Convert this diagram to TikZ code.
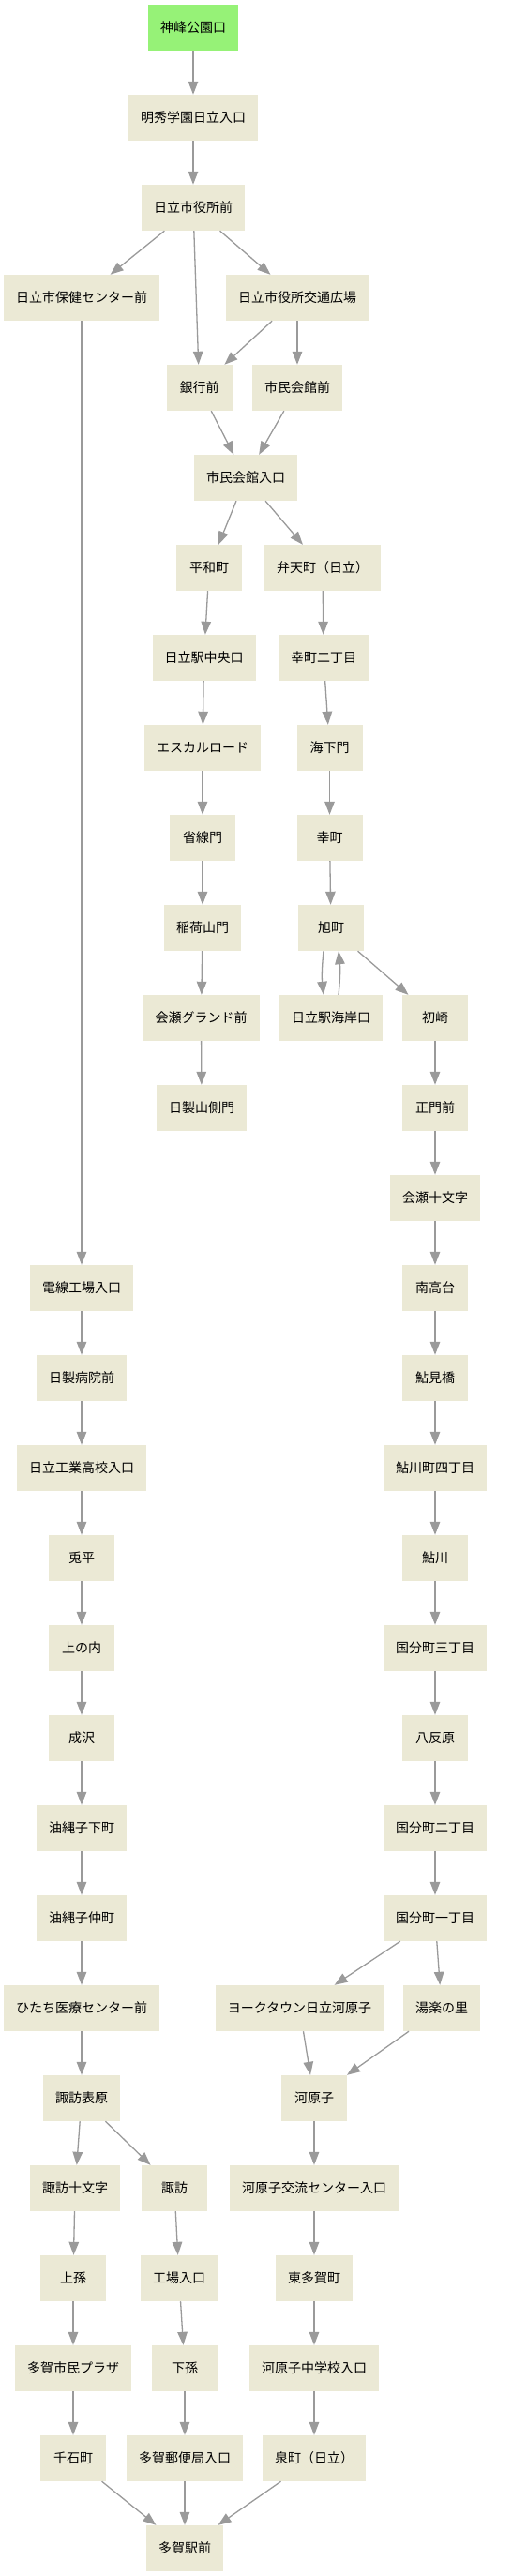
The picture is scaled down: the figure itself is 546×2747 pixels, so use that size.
\documentclass[tikz,border=0pt]{standalone}
\usepackage{fontspec}
\setmainfont{Noto Sans CJK JP}
\usetikzlibrary{arrows.meta}
\definecolor{stopfill}{HTML}{EBE9D5}
\definecolor{startfill}{HTML}{96F277}
\definecolor{linkgray}{HTML}{9A9A9A}
\tikzset{
    busstop/.style={rectangle,fill=stopfill,minimum height=49pt,minimum width=70pt,
        inner xsep=13pt,font=\fontsize{14}{16}\selectfont},
    startstop/.style={busstop,fill=startfill},
    link/.style={draw=linkgray,line width=1.3pt,-{Triangle[length=14pt,width=10.5pt]}}
}
\begin{document}
\begin{tikzpicture}[x=1pt,y=-1pt]
    \useasboundingbox (0,0) rectangle (546,2747);
    % top part
    \node[startstop] (kamine) at (206,29.5) {神峰公園口};
    \node[busstop] (meishu) at (206,125.5) {明秀学園日立入口};
    \node[busstop] (shiyakusho) at (206,221.5) {日立市役所前};
    \node[busstop] (hoken) at (87,317.5) {日立市保健センター前};
    \node[busstop] (kotsu) at (317,317.5) {日立市役所交通広場};
    \node[busstop] (ginko) at (212.5,413.5) {銀行前};
    \node[busstop] (kaikanmae) at (317,413.5) {市民会館前};
    \node[busstop] (kaikan) at (262,509.5) {市民会館入口};
    \node[busstop] (heiwa) at (223,605.5) {平和町};
    \node[busstop] (benten) at (344,605.5) {弁天町（日立）};
    \node[busstop] (chuo) at (217.5,701.5) {日立駅中央口};
    \node[busstop] (saiwai2) at (345,701.5) {幸町二丁目};
    \node[busstop] (escal) at (216,797.5) {エスカルロード};
    \node[busstop] (kaige) at (351.5,797.5) {海下門};
    \node[busstop] (shosen) at (216,893.5) {省線門};
    \node[busstop] (saiwai) at (351.5,893.5) {幸町};
    \node[busstop] (inari) at (216,989.5) {稲荷山門};
    \node[busstop] (asahi) at (353,989.5) {旭町};
    \node[busstop] (ouse) at (214.5,1085.5) {会瀬グランド前};
    \node[busstop] (kaigan) at (353,1085.5) {日立駅海岸口};
    \node[busstop] (hatsu) at (464,1085.5) {初崎};
    \node[busstop] (yamagawa) at (215,1181.5) {日製山側門};
    % right column
    \node[busstop] (seimon) at (464,1181.5) {正門前};
    \node[busstop] (ouse10) at (464,1277.5) {会瀬十文字};
    \node[busstop] (minami) at (464,1373.5) {南高台};
    \node[busstop] (ayumi) at (464,1469.5) {鮎見橋};
    \node[busstop] (ayu4) at (464,1565.5) {鮎川町四丁目};
    \node[busstop] (ayukawa) at (464,1661.5) {鮎川};
    \node[busstop] (kokubu3) at (464,1757.5) {国分町三丁目};
    \node[busstop] (hatta) at (464,1853.5) {八反原};
    \node[busstop] (kokubu2) at (464,1949.5) {国分町二丁目};
    \node[busstop] (kokubu1) at (464,2045.5) {国分町一丁目};
    \node[busstop] (york) at (319.5,2141.5) {ヨークタウン日立河原子};
    \node[busstop] (yura) at (471,2141.5) {湯楽の里};
    \node[busstop] (kawarago) at (335,2237.5) {河原子};
    \node[busstop] (koryu) at (335,2333.5) {河原子交流センター入口};
    \node[busstop] (higashi) at (335,2429.5) {東多賀町};
    \node[busstop] (kchugaku) at (335,2525.5) {河原子中学校入口};
    \node[busstop] (izumi) at (335,2621.5) {泉町（日立）};
    % left column
    \node[busstop] (densen) at (87,1373.5) {電線工場入口};
    \node[busstop] (byoin) at (87,1469.5) {日製病院前};
    \node[busstop] (kogyo) at (87,1565.5) {日立工業高校入口};
    \node[busstop] (usagi) at (87,1661.5) {兎平};
    \node[busstop] (kaminouchi) at (87,1757.5) {上の内};
    \node[busstop] (narusawa) at (87,1853.5) {成沢};
    \node[busstop] (yunawa) at (87,1949.5) {油縄子下町};
    \node[busstop] (yunawanaka) at (87,2045.5) {油縄子仲町};
    \node[busstop] (iryo) at (87,2141.5) {ひたち医療センター前};
    \node[busstop] (suwaomote) at (87,2237.5) {諏訪表原};
    \node[busstop] (suwa10) at (80,2333.5) {諏訪十文字};
    \node[busstop] (suwa) at (186,2333.5) {諏訪};
    \node[busstop] (kamimago) at (78,2429.5) {上孫};
    \node[busstop] (kojo) at (191,2429.5) {工場入口};
    \node[busstop] (plaza) at (78,2525.5) {多賀市民プラザ};
    \node[busstop] (shimomago) at (197,2525.5) {下孫};
    \node[busstop] (sengoku) at (78,2621.5) {千石町};
    \node[busstop] (yubin) at (197,2621.5) {多賀郵便局入口};
    \node[busstop] (taga) at (197,2717.5) {多賀駅前};
    % links
    \foreach \a/\b in {kamine/meishu,meishu/shiyakusho,shiyakusho/hoken,shiyakusho/ginko,
        shiyakusho/kotsu,kotsu/ginko,kotsu/kaikanmae,ginko/kaikan,kaikanmae/kaikan,
        kaikan/heiwa,kaikan/benten,heiwa/chuo,benten/saiwai2,chuo/escal,saiwai2/kaige,
        escal/shosen,kaige/saiwai,shosen/inari,saiwai/asahi,inari/ouse,asahi/hatsu,
        ouse/yamagawa,hatsu/seimon,seimon/ouse10,ouse10/minami,minami/ayumi,ayumi/ayu4,
        ayu4/ayukawa,ayukawa/kokubu3,kokubu3/hatta,hatta/kokubu2,kokubu2/kokubu1,
        kokubu1/york,kokubu1/yura,york/kawarago,yura/kawarago,kawarago/koryu,
        koryu/higashi,higashi/kchugaku,kchugaku/izumi,hoken/densen,densen/byoin,
        byoin/kogyo,kogyo/usagi,usagi/kaminouchi,kaminouchi/narusawa,narusawa/yunawa,
        yunawa/yunawanaka,yunawanaka/iryo,iryo/suwaomote,suwaomote/suwa10,
        suwaomote/suwa,suwa10/kamimago,kamimago/plaza,plaza/sengoku,suwa/kojo,
        kojo/shimomago,shimomago/yubin,sengoku/taga,yubin/taga,izumi/taga} {
        \draw[link] (\a) -- (\b);
    }
    \draw[link] ([xshift=-8pt]asahi.south) to[bend right=6] ([xshift=-8pt]kaigan.north);
    \draw[link] ([xshift=8pt]kaigan.north) to[bend right=6] ([xshift=8pt]asahi.south);
\end{tikzpicture}
\end{document}
